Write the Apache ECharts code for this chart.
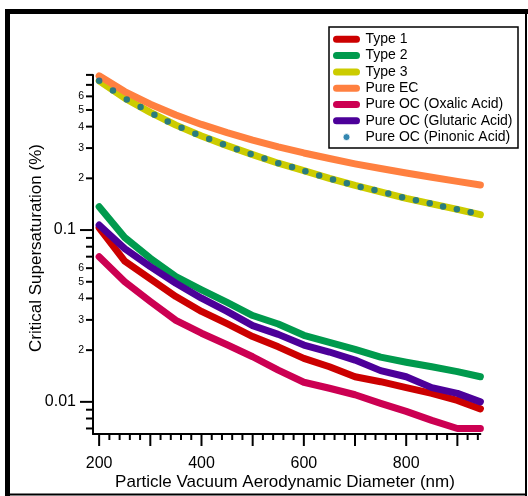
<!DOCTYPE html>
<html><head><meta charset="utf-8">
<script src="https://cdn.jsdelivr.net/npm/echarts@6/dist/echarts.min.js"></script>
<style>html,body{margin:0;padding:0;background:#fff}#c{width:528px;height:496px}</style>
</head><body><div id="c"></div>
<script>
// ---- data ----
const xNm = [200, 250, 300, 350, 400, 450, 500, 550, 600, 650, 700, 750, 800, 850, 900, 945];
const type1 = [0.103, 0.066, 0.052, 0.041, 0.0336, 0.0285, 0.0240, 0.0209, 0.0179, 0.0160, 0.0140, 0.0131, 0.0121, 0.0112, 0.0102, 0.0091];
const type2 = [0.1366, 0.0906, 0.0685, 0.0536, 0.0449, 0.0379, 0.0318, 0.0284, 0.0244, 0.0222, 0.0202, 0.0182, 0.0170, 0.0160, 0.0150, 0.0140];
const type3 = [0.739, 0.586, 0.484, 0.408, 0.353, 0.310, 0.275, 0.245, 0.222, 0.200, 0.182, 0.167, 0.153, 0.142, 0.132, 0.123];
const pureEC = [0.79, 0.640, 0.540, 0.467, 0.412, 0.369, 0.334, 0.305, 0.281, 0.261, 0.243, 0.228, 0.215, 0.203, 0.192, 0.183];
const oxalic = [0.070, 0.050, 0.0384, 0.0298, 0.0251, 0.0215, 0.0183, 0.0153, 0.0130, 0.0120, 0.0110, 0.0098, 0.0088, 0.0078, 0.0070, 0.0070];
const glutaric = [0.107, 0.078, 0.0613, 0.049, 0.0401, 0.0336, 0.0278, 0.0247, 0.0214, 0.0195, 0.0175, 0.0152, 0.0140, 0.0121, 0.0112, 0.0100];
const pinonicX = [200, 227, 254, 281, 308, 334, 361, 388, 415, 442, 469, 496, 523, 550, 577, 603, 630, 657, 684, 711, 738, 765, 792, 819, 846, 872, 899, 926];
const pinonic = [0.739, 0.649, 0.576, 0.520, 0.469, 0.429, 0.394, 0.364, 0.339, 0.316, 0.295, 0.277, 0.261, 0.245, 0.233, 0.220, 0.208, 0.197, 0.187, 0.178, 0.171, 0.163, 0.155, 0.149, 0.143, 0.137, 0.132, 0.127];
const seriesNames = ['Type 1', 'Type 2', 'Type 3', 'Pure EC', 'Pure OC (Oxalic Acid)', 'Pure OC (Glutaric Acid)', 'Pure OC (Pinonic Acid)'];
const xTickLabels = [200, 400, 600, 800];
const xMajorTicks = [200, 300, 400, 500, 600, 700, 800, 900];
const xMinorTicks = [200,220,240,260,280,300,320,340,360,380,400,420,440,460,480,500,520,540,560,580,600,620,640,660,680,700,720,740,760,780,800,820,840,860,880,900,920,940];
const yMajorTicks = [0.01, 0.1];
const yMajorLabels = ['0.01', '0.1'];
const yMinorTicks = [0.007, 0.008, 0.009, 0.02, 0.03, 0.04, 0.05, 0.06, 0.07, 0.08, 0.09, 0.2, 0.3, 0.4, 0.5, 0.6, 0.7, 0.8];
const yMinorLabelVals = [0.02, 0.03, 0.04, 0.05, 0.06, 0.2, 0.3, 0.4, 0.5, 0.6];
const yMinorLabels = ['2', '3', '4', '5', '6', '2', '3', '4', '5', '6'];

const colors = ['#cc0000', '#009a4d', '#cccc00', '#ff8040', '#cc0052', '#4c0099', '#00689c'];
const FONT = '"Liberation Sans", Arial, sans-serif';
const CAPSULE = 'path://M3.5,0L23.5,0A3.5,3.5,0,0,1,23.5,7L3.5,7A3.5,3.5,0,0,1,3.5,0Z';

const chart = echarts.init(document.getElementById('c'), null, {renderer: 'canvas'});
function pairs(xs, ys) { return xs.map((x, i) => [x, ys[i]]); }
function lineSeries(i, ys) {
  return {
    name: seriesNames[i], type: 'line', data: pairs(xNm, ys), symbol: 'none', clip: false,
    lineStyle: {color: colors[i], width: 7, cap: 'round', join: 'round'},
    itemStyle: {color: colors[i]}, z: 2 + i, emphasis: {disabled: true}
  };
}

chart.setOption({
  animation: false,
  grid: {left: 93, top: 74.9, width: 387.4, height: 359.1, containLabel: false, outerBoundsMode: 'none'},
  xAxis: {
    type: 'value', min: 188, max: 945,
    axisLine: {show: true, onZero: false, lineStyle: {color: '#000', width: 2}},
    axisTick: {show: false}, axisLabel: {show: false}, splitLine: {show: false}
  },
  yAxis: {
    type: 'log', logBase: 10, min: 0.0065, max: 0.8,
    axisLine: {show: true, onZero: false, lineStyle: {color: '#000', width: 2}},
    axisTick: {show: false}, axisLabel: {show: false}, splitLine: {show: false}
  },
  legend: {
    orient: 'vertical', left: 333, top: 31.3, padding: 0,
    itemWidth: 28, itemHeight: 7, itemGap: 0.3,
    textStyle: {fontSize: 14, fontFamily: FONT, color: '#000', lineHeight: 16},
    data: seriesNames.map((n, i) => i === 6 ? {name: n, icon: 'circle', itemStyle: {borderColor: '#fff', borderWidth: 1}} : {name: n, icon: CAPSULE})
  },
  series: [
    lineSeries(0, type1), lineSeries(1, type2), lineSeries(2, type3), lineSeries(3, pureEC),
    lineSeries(4, oxalic), lineSeries(5, glutaric),
    {name: seriesNames[6], type: 'scatter', data: pairs(pinonicX, pinonic), symbol: 'circle', symbolSize: 6.5,
     itemStyle: {color: colors[6]}, z: 10, clip: false, emphasis: {disabled: true}}
  ]
});

const X = v => chart.convertToPixel({xAxisIndex: 0}, v);
const Y = v => chart.convertToPixel({yAxisIndex: 0}, v);
const g = [];
const line = (x1, y1, x2, y2, w) => g.push({type: 'line', shape: {x1, y1, x2, y2}, style: {stroke: '#000', lineWidth: w}, silent: true, z: 50});
const rect = (x, y, width, height) => g.push({type: 'rect', shape: {x, y, width, height}, style: {fill: '#000'}, silent: true, z: 50});
const text = (t, x, y, size, align, extra) => g.push(Object.assign({type: 'text', x, y, style: {text: t, fontSize: size, fontFamily: FONT, fill: '#000', textAlign: align, textVerticalAlign: 'middle'}, silent: true, z: 50}, extra || {}));

const axY = Y(0.0065), axX = X(188);
xMinorTicks.forEach(v => { if (xMajorTicks.indexOf(v) < 0) line(X(v), axY, X(v), axY + 6, 2); });
xMajorTicks.forEach(v => line(X(v), axY, X(v), axY + 12, 2));
xTickLabels.forEach(v => text(String(v), X(v), 464, 16, 'center'));
yMinorTicks.forEach(v => line(axX - 7, Y(v), axX, Y(v), 2));
yMajorTicks.forEach((v, i) => { line(axX - 13, Y(v), axX, Y(v), 2); text(yMajorLabels[i], 76, Y(v), 16, 'right'); });
yMinorLabelVals.forEach((v, i) => text(yMinorLabels[i], 84, Y(v), 10.5, 'right'));
text('Particle Vacuum Aerodynamic Diameter (nm)', 285, 482, 17, 'center');
text('Critical Supersaturation (%)', 36, 248, 17, 'center', {rotation: Math.PI / 2});
// legend box
g.push({type: 'rect', shape: {x: 329, y: 27, width: 189, height: 121}, style: {fill: 'none', stroke: '#000', lineWidth: 1.5}, silent: true, z: 50});
// outer frame
rect(5, 9, 5, 487); rect(5, 9, 523, 5); rect(525, 9, 2, 487); rect(5, 493.5, 522, 2);
chart.setOption({graphic: g});
</script></body></html>
